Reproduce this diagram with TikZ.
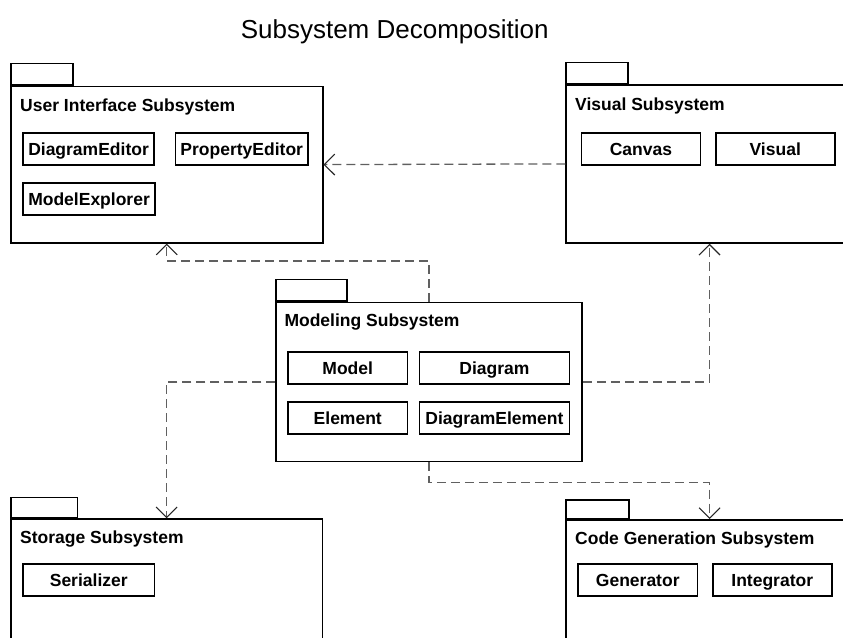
\documentclass[tikz,border=0pt]{standalone}
\usepackage{fontspec}
\setmainfont{Liberation Sans}
\usetikzlibrary{arrows.meta}
\definecolor{depgray}{HTML}{606060}
\tikzset{
  pkg/.style={draw, line width=1.5pt, anchor=north west, inner sep=0pt},
  pkgtab/.style={draw, line width=1.5pt, anchor=south west, inner sep=0pt},
  cls/.style={draw, line width=1.5pt, anchor=north west, inner sep=0pt,
    minimum height=32pt, text height=12.5pt, text depth=0pt,
    font=\bfseries\fontsize{17.5}{20}\selectfont},
  plabel/.style={anchor=base west, inner sep=0pt,
    font=\bfseries\fontsize{17.5}{20}\selectfont},
  dep/.style={draw=depgray, line width=1.3pt, dash pattern=on 9pt off 5pt,
    -{Straight Barb[length=10.5pt, width=21pt, line width=1.1pt, color=black!85]}},
}
\begin{document}
\begin{tikzpicture}[x=1pt, y=-1pt]
\useasboundingbox (0,0) rectangle (843,637);
\clip (0,0) rectangle (843,637);

% title
\node[anchor=base, inner sep=0pt, font=\fontsize{26}{30}\selectfont] (title) at (394.7,38.3) {Subsystem Decomposition};

% User Interface Subsystem
\node[pkg, minimum width=312pt, minimum height=156.3pt] (ui) at (10,85.7) {};
\node[pkgtab, minimum width=62.3pt, minimum height=21.4pt] (uitab) at (ui.north west) {};
\node[plabel] (uilbl) at (20,111.3) {User Interface Subsystem};
\node[cls, minimum width=131pt] (diaged) at (22.3,132.3) {DiagramEditor};
\node[cls, minimum width=132.6pt] (proped) at (174.7,132.3) {PropertyEditor};
\node[cls, minimum width=132pt] (modexp) at (22.3,182.3) {ModelExplorer};

% Visual Subsystem
\node[pkg, minimum width=287pt, minimum height=158.3pt] (vis) at (565.3,84) {};
\node[pkgtab, minimum width=62pt, minimum height=20.7pt] (vistab) at (vis.north west) {};
\node[plabel] (vislbl) at (575,110) {Visual Subsystem};
\node[cls, minimum width=119pt] (canvas) at (580.7,132.3) {Canvas};
\node[cls, minimum width=119pt] (visual) at (715,132.3) {Visual};

% Modeling Subsystem
\node[pkg, minimum width=306pt, minimum height=159pt] (mod) at (275.3,301.7) {};
\node[pkgtab, minimum width=71pt, minimum height=21.7pt] (modtab) at (mod.north west) {};
\node[plabel] (modlbl) at (284.3,326.5) {Modeling Subsystem};
\node[cls, minimum width=119.4pt] (model) at (287.3,351) {Model};
\node[cls, minimum width=150pt] (diagram) at (418.7,351) {Diagram};
\node[cls, minimum width=119.4pt] (element) at (287.3,401) {Element};
\node[cls, minimum width=150pt] (diagel) at (418.7,401) {DiagramElement};

% Storage Subsystem
\node[pkg, minimum width=311.7pt, minimum height=140pt] (sto) at (10,518.3) {};
\node[pkgtab, minimum width=66.7pt, minimum height=20pt] (stotab) at (sto.north west) {};
\node[plabel] (stolbl) at (20,543.3) {Storage Subsystem};
\node[cls, minimum width=131.4pt] (serial) at (22.3,563.3) {Serializer};

% Code Generation Subsystem
\node[pkg, minimum width=287pt, minimum height=140pt] (code) at (565.3,519) {};
\node[pkgtab, minimum width=62.7pt, minimum height=18.5pt] (codetab) at (code.north west) {};
\node[plabel] (codelbl) at (575,544) {Code Generation Subsystem};
\node[cls, minimum width=119.4pt] (gen) at (577.3,563.3) {Generator};
\node[cls, minimum width=119pt] (integ) at (712,563.3) {Integrator};

% routing rows for the dependencies
\coordinate (rowtop) at (0,261);
\coordinate (rowbot) at (0,482.3);

% dependencies
\draw[dep] (vis.west) -- (ui.east);
\draw[dep] (mod.north) |- (rowtop -| ui.south) -- (ui.south);
\draw[dep] (mod.west) -| (sto.north);
\draw[dep] (mod.east) -| (vis.south);
\draw[dep] (mod.south) |- (rowbot -| code.north) -- (code.north);
\end{tikzpicture}
\end{document}
